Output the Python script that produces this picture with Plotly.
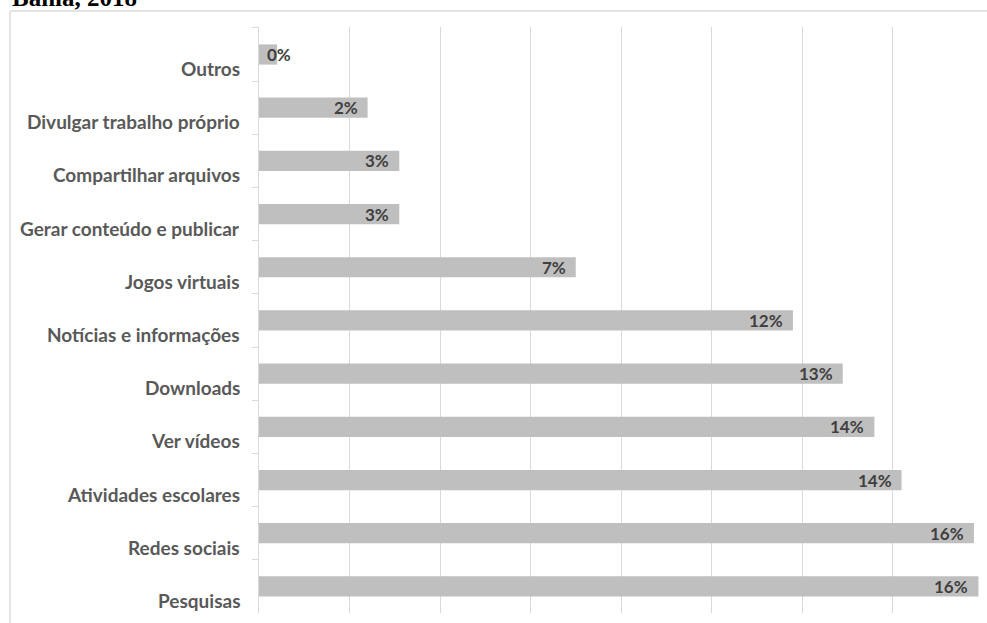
import plotly.graph_objects as go

# Internet activity categories, listed top to bottom
categories = [
    "Outros",
    "Divulgar trabalho próprio",
    "Compartilhar arquivos",
    "Gerar conteúdo e publicar",
    "Jogos virtuais",
    "Notícias e informações",
    "Downloads",
    "Ver vídeos",
    "Atividades escolares",
    "Redes sociais",
    "Pesquisas",
]
# Share of responses (%)
values = [0.4, 2.4, 3.1, 3.1, 7.0, 11.8, 12.9, 13.6, 14.2, 15.8, 15.9]

title_text = "Bahia, 2018"

W, H = 987, 623
L, R, T, B = 259, 4, 27, 10
plot_w = W - L - R
plot_h = H - T - B

label_font = dict(family="Lato, Open Sans, sans-serif", size=19, color="#595959")
value_font = dict(family="Lato, Open Sans, sans-serif", size=17, color="#404040")

fig = go.Figure(
    go.Bar(
        x=values,
        y=categories,
        orientation="h",
        marker=dict(color="#bfbfbf", line=dict(width=0)),
        hoverinfo="x+y",
    )
)

annotations = []
# category labels sit slightly below the bar centres
for c in categories:
    annotations.append(dict(
        x=0, xref="paper", y=c, yref="y",
        text=f"<b>{c}</b>", showarrow=False,
        xanchor="right", yanchor="middle", xshift=-17, yshift=-14,
        font=label_font,
    ))
# value labels at the end of each bar
for c, v in zip(categories, values):
    narrow = v < 1
    annotations.append(dict(
        x=v, xref="x", y=c, yref="y",
        text=f"<b>{v:.0f}%</b>", showarrow=False,
        xanchor="center" if narrow else "right", yanchor="middle",
        xshift=2 if narrow else -8, yshift=0,
        font=value_font,
    ))
# title line, partly above the page edge
annotations.append(dict(
    x=(10 - L) / plot_w, xref="paper", y=(plot_h + T - 13) / plot_h, yref="paper",
    text=f"<b>{title_text}</b>", showarrow=False,
    xanchor="left", yanchor="bottom",
    font=dict(family="Liberation Serif, Times New Roman, serif", size=25, color="#000000"),
))

shapes = [
    # outer chart frame (left and top edges)
    dict(type="line", xref="paper", yref="paper",
         x0=(10 - L) / plot_w, x1=(10 - L) / plot_w,
         y0=(T + plot_h - 11) / plot_h, y1=-0.2,
         line=dict(color="#e3e3e3", width=2)),
    dict(type="line", xref="paper", yref="paper",
         x0=(10 - L) / plot_w, x1=1.2,
         y0=(T + plot_h - 11) / plot_h, y1=(T + plot_h - 11) / plot_h,
         line=dict(color="#e3e3e3", width=2)),
]

fig.update_layout(
    width=W, height=H,
    margin=dict(l=L, r=R, t=T, b=B),
    paper_bgcolor="white", plot_bgcolor="white",
    bargap=0.62,
    showlegend=False,
    annotations=annotations,
    shapes=shapes,
    xaxis=dict(
        range=[0, 16], dtick=2, showgrid=True, gridcolor="#d9d9d9", gridwidth=1,
        showticklabels=False, zeroline=False, showline=False, ticks="",
        fixedrange=True,
    ),
    yaxis=dict(
        autorange="reversed", showticklabels=False,
        showline=True, linecolor="#d9d9d9", linewidth=1,
        ticks="outside", tickson="boundaries", ticklen=6, tickcolor="#d9d9d9",
        showgrid=False, fixedrange=True,
    ),
)

fig.write_html("out.html")
